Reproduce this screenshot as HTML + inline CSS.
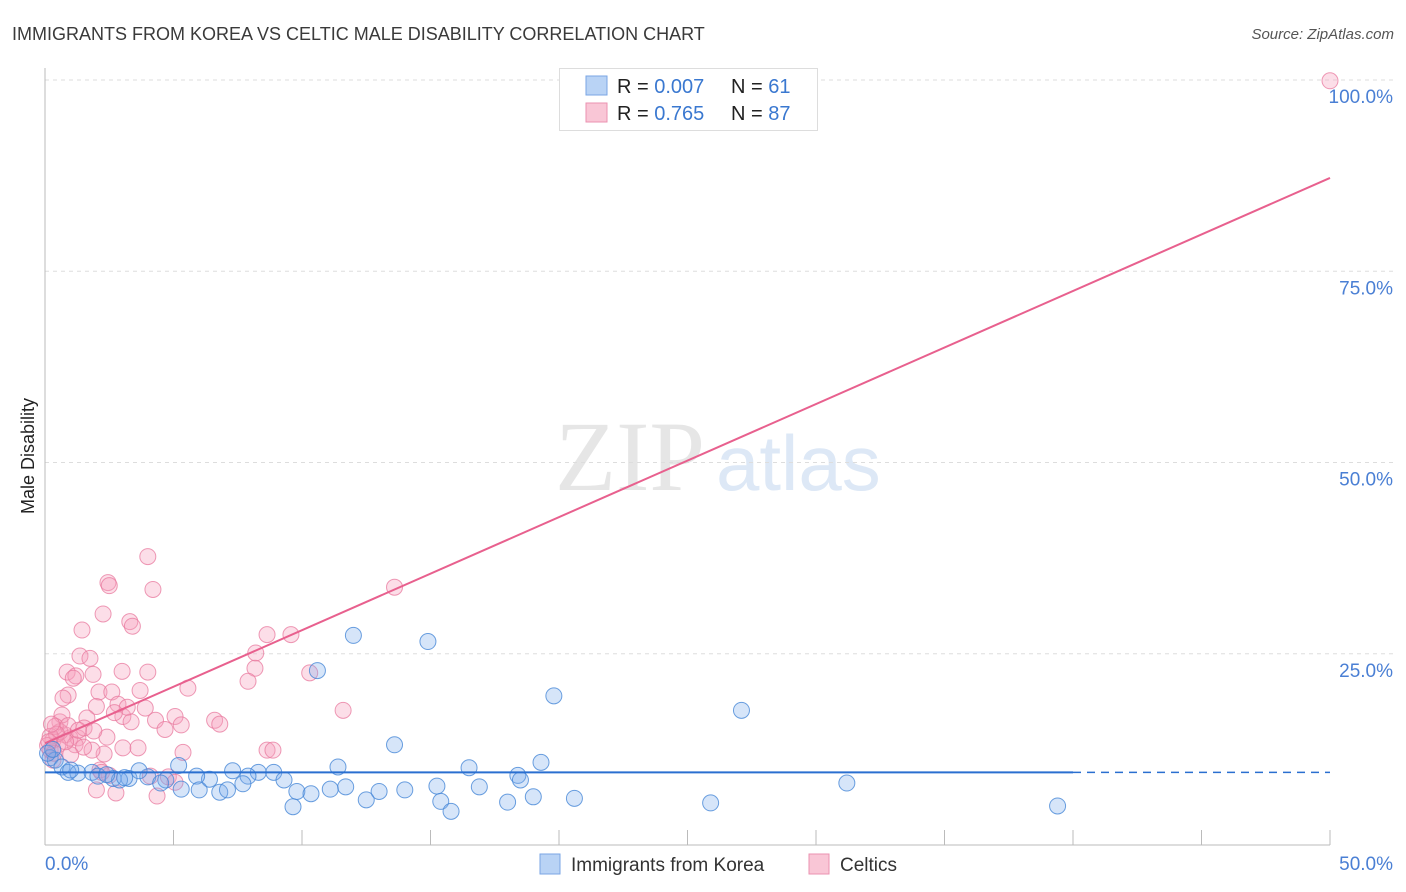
<!DOCTYPE html>
<html><head><meta charset="utf-8">
<style>
body{margin:0;background:#fff;font-family:"Liberation Sans",sans-serif;}
#wrap{position:relative;width:1406px;height:892px;overflow:hidden;}
svg{position:absolute;left:0;top:0;}
</style></head>
<body>
<div id="wrap">
<svg id="chart" width="1406" height="892">
  <text x="12" y="40" font-size="18" fill="#3a3a3a">IMMIGRANTS FROM KOREA VS CELTIC MALE DISABILITY CORRELATION CHART</text>
  <text x="1394" y="39" font-size="15" fill="#555" font-style="italic" text-anchor="end">Source: ZipAtlas.com</text>
  <text x="555" y="490" font-size="100" fill="#e6e6e6" font-family="Liberation Serif, serif">ZIP</text>
  <text x="716" y="490" font-size="78" fill="#dde8f6">atlas</text>
  <text transform="translate(34,456) rotate(-90)" font-size="18" fill="#222" text-anchor="middle">Male Disability</text>
  <g id="grid"></g>
  <g id="axes"></g>
  <g id="pts"></g>
  <g id="trend"></g>
  <g>
    <rect x="559.5" y="68.5" width="258" height="62" fill="#fff" stroke="#ddd"/>
    <rect x="586" y="76" width="21" height="19" fill="#b9d3f5" stroke="#7aa6e4"/>
    <rect x="586" y="103" width="21" height="19" fill="#f9c6d6" stroke="#eb92b0"/>
    <text x="617" y="93" font-size="20" fill="#222">R = <tspan fill="#3a78d0">0.007</tspan></text>
    <text x="731" y="93" font-size="20" fill="#222">N = <tspan fill="#3a78d0"> 61</tspan></text>
    <text x="617" y="120" font-size="20" fill="#222">R = <tspan fill="#3a78d0"> 0.765</tspan></text>
    <text x="731" y="120" font-size="20" fill="#222">N = <tspan fill="#3a78d0">87</tspan></text>
  </g>
  <g>
    <rect x="540" y="854" width="20" height="20" fill="#b9d3f5" stroke="#7aa6e4"/>
    <text x="571" y="871" font-size="19" fill="#333">Immigrants from Korea</text>
    <rect x="809" y="854" width="20" height="20" fill="#f9c6d6" stroke="#eb92b0"/>
    <text x="840" y="871" font-size="19" fill="#333">Celtics</text>
  </g>
</svg>
</div>
<script>
const xTickValues=[0,5,10,15,20,25,30,35,40,45,50];
const yTickValues=[25,50,75,100];
const yTickLabels=["25.0%","50.0%","75.0%","100.0%"];
const xAxisLabels=["0.0%","50.0%"];
const koreaX=[12.0,14.9,10.6,19.8,27.1,13.6,19.3,16.5,18.4,18.5,11.4,8.3,7.3,7.9,8.9,6.4,5.9,5.2,4.0,4.7,5.3,6.0,6.8,7.7,9.3,9.8,10.35,11.1,11.7,12.5,13.0,14.0,15.25,15.4,15.8,16.9,18.0,19.0,20.6,9.65,25.9,31.2,39.4,0.2,0.4,0.66,0.9,1.28,1.83,2.06,2.65,3.27,3.66,2.9,4.5,7.1,0.1,0.3,1.0,2.4,3.1];
const koreaY=[27.4,26.6,22.8,19.5,17.6,13.1,10.8,10.1,9.1,8.5,10.2,9.5,9.7,9.0,9.5,8.6,9.0,10.4,8.9,8.5,7.3,7.2,6.9,8.0,8.5,7.0,6.7,7.3,7.6,5.9,7.0,7.2,7.7,5.7,4.4,7.6,5.6,6.3,6.1,5.0,5.5,8.1,5.1,11.4,11.1,10.2,9.5,9.4,9.5,9.0,8.7,8.7,9.7,8.5,8.1,7.2,12.0,12.5,9.8,9.2,8.8];
const celticX=[4.0,4.2,2.45,2.26,3.3,1.44,1.36,1.75,0.86,1.2,1.87,3.0,4.0,5.56,0.9,2.1,2.6,2.0,2.84,3.03,3.9,3.35,4.3,5.06,5.3,4.67,1.63,0.58,0.78,0.97,1.28,1.52,2.41,3.03,3.62,2.3,1.83,5.37,0.31,0.2,0.31,8.64,9.57,8.2,8.17,7.9,10.3,11.6,13.6,6.6,6.8,4.8,2.0,2.76,4.36,8.64,8.87,50.0,0.66,0.5,1.17,2.14,2.5,5.06,0.58,3.4,2.5,1.1,0.4,0.2,0.1,0.7,1.5,2.2,3.2,0.9,1.3,4.1,0.35,0.45,0.15,1.0,1.9,0.25,2.7,3.7,0.8];
const celticY=[37.7,33.4,34.3,30.2,29.2,28.1,24.7,24.4,22.6,22.1,22.3,22.7,22.6,20.5,19.6,20.0,20.0,18.1,18.4,16.8,17.9,16.1,16.3,16.8,15.7,15.1,16.6,16.1,14.4,14.0,14.0,15.3,14.1,12.7,12.7,11.9,12.4,12.1,13.7,12.4,11.1,27.5,27.5,25.1,23.1,21.4,22.5,17.6,33.7,16.3,15.8,8.9,7.2,6.8,6.4,12.4,12.4,99.9,17.0,13.1,13.1,9.8,9.1,8.2,14.8,28.6,33.9,21.8,15.5,14.2,13.0,19.2,12.8,9.5,18.0,15.6,15.0,9.0,12.0,14.5,13.5,11.8,14.9,15.8,17.3,20.2,13.5];
const koreaTrend=[9.5,9.5];
const celticTrend=[13.3,87.2];
const trendX=[0,50];
const solidEndX=40;

const NS="http://www.w3.org/2000/svg";
const X0=45,X1=1330,Y0=845,Y1=80;
function sx(v){return X0+(v-0)/(50-0)*(X1-X0);}
function sy(v){return Y0-(v-0)/(100-0)*(Y0-Y1);}
function mk(tag,attrs,parent){const e=document.createElementNS(NS,tag);for(const k in attrs)e.setAttribute(k,attrs[k]);parent.appendChild(e);return e;}
const grid=document.getElementById('grid'),axes=document.getElementById('axes'),pts=document.getElementById('pts'),trend=document.getElementById('trend');
yTickValues.forEach((v,i)=>{
  const l=mk('line',{x1:X0,x2:1395,y1:sy(v),y2:sy(v),stroke:'#ddd','stroke-dasharray':'4,4'},grid);
  
  
  const t=mk('text',{x:1393,y:sy(v)+23,'font-size':19,fill:'#4a7fd4','text-anchor':'end'},grid);
  t.textContent=yTickLabels[i];
  
  
});
const ya=mk('line',{x1:X0,x2:X0,y1:68,y2:Y0,stroke:'#bbb'},axes);


const xa=mk('line',{x1:X0,x2:X1,y1:Y0,y2:Y0,stroke:'#bbb'},axes);


xTickValues.forEach(v=>{
  if(v===0)return;
  const t=mk('line',{x1:sx(v),x2:sx(v),y1:Y0-15,y2:Y0,stroke:'#bbb'},axes);
  
  
});
const xl0=mk('text',{x:45,y:870,'font-size':19,fill:'#4a7fd4'},axes);xl0.textContent=xAxisLabels[0];


const xl1=mk('text',{x:1393,y:870,'font-size':19,fill:'#4a7fd4','text-anchor':'end'},axes);xl1.textContent=xAxisLabels[1];


celticX.forEach((v,i)=>{
  const c=mk('circle',{cx:sx(v),cy:sy(celticY[i]),r:8,fill:'rgba(246,160,188,0.35)',stroke:'rgba(232,120,158,0.75)','stroke-width':1},pts);
  
  
});
koreaX.forEach((v,i)=>{
  const c=mk('circle',{cx:sx(v),cy:sy(koreaY[i]),r:8,fill:'rgba(120,170,235,0.3)',stroke:'rgba(70,135,215,0.8)','stroke-width':1},pts);
  
  
});
function lerp(arr,x){return arr[0]+(arr[1]-arr[0])*(x-trendX[0])/(trendX[1]-trendX[0]);}
const kt=mk('line',{x1:sx(trendX[0]),y1:sy(koreaTrend[0]),x2:sx(solidEndX),y2:sy(lerp(koreaTrend,solidEndX)),stroke:'#2a6fd0','stroke-width':2},trend);


const kd=mk('line',{x1:sx(solidEndX),y1:sy(lerp(koreaTrend,solidEndX)),x2:sx(trendX[1]),y2:sy(koreaTrend[1]),stroke:'#2a6fd0','stroke-width':1.5,'stroke-dasharray':'8,6'},trend);


const ct=mk('line',{x1:sx(trendX[0]),y1:sy(celticTrend[0]),x2:sx(trendX[1]),y2:sy(celticTrend[1]),stroke:'#e8608e','stroke-width':2},trend);


</script>
</body></html>
